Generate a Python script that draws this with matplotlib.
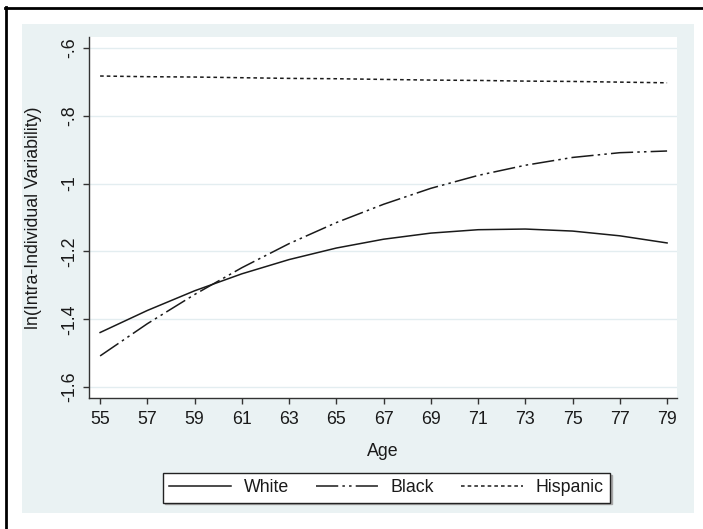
import matplotlib
matplotlib.use("Agg")
import matplotlib.pyplot as plt
from matplotlib.lines import Line2D
from matplotlib.patches import Rectangle

plt.rcParams['font.family'] = ['Liberation Sans', 'DejaVu Sans']
plt.rcParams['lines.scale_dashes'] = False

# values
age = [55, 57, 59, 61, 63, 65, 67, 69, 71, 73, 75, 77, 79]
white = [-1.439, -1.374, -1.316, -1.266, -1.224, -1.190, -1.164,
         -1.146, -1.136, -1.134, -1.140, -1.154, -1.175]
black = [-1.508, -1.413, -1.327, -1.248, -1.177, -1.115, -1.061,
         -1.014, -0.976, -0.946, -0.923, -0.909, -0.904]
hispanic = [-0.683, -0.685, -0.686, -0.688, -0.690, -0.691, -0.693,
            -0.695, -0.696, -0.698, -0.699, -0.701, -0.703]

yticks = [-0.6, -0.8, -1.0, -1.2, -1.4, -1.6]
ytick_labels = ["-.6", "-.8", "-1", "-1.2", "-1.4", "-1.6"]
xticks = list(range(55, 80, 2))

W, H = 703, 529
fig = plt.figure(figsize=(W / 100, H / 100), dpi=100)
fig.patch.set_facecolor("white")

bg = "#eaf2f3"
fig.add_artist(Rectangle((22 / W, 1 - 513 / H), 672 / W, 489 / H,
                         transform=fig.transFigure, facecolor=bg,
                         edgecolor="none", zorder=0))
# partial black frame (top and left)
fig.add_artist(Line2D([5 / W, 1], [1 - 8 / H, 1 - 8 / H], color="black",
                      lw=2.0, transform=fig.transFigure))
fig.add_artist(Line2D([6 / W, 6 / W], [0, 1 - 7 / H], color="black",
                      lw=2.0, transform=fig.transFigure))

ax = fig.add_axes([89 / W, 1 - 398 / H, 588 / W, 361 / H])
ax.set_facecolor("white")

ax.plot(age, white, color="#1a1a1a", lw=1.1, label="White")
ax.plot(age, black, color="#1a1a1a", lw=1.1, label="Black",
        dashes=(16, 3, 1.8, 3, 1.8, 3))
ax.plot(age, hispanic, color="#1a1a1a", lw=1.1, label="Hispanic",
        dashes=(2.6, 2.2))

ax.set_xlim(54.53, 79.42)
ax.set_ylim(-1.632, -0.568)
ax.set_xticks(xticks)
ax.set_yticks(yticks)
ax.set_yticklabels(ytick_labels, rotation=90, va="center")
ax.grid(axis="y", color="#e3edf0", lw=1.0)
ax.set_axisbelow(True)

for s in ["top", "right"]:
    ax.spines[s].set_visible(False)
for s in ["left", "bottom"]:
    ax.spines[s].set_color("#333333")
    ax.spines[s].set_linewidth(1.0)

ax.tick_params(axis="both", length=4.5, width=1.0, color="#333333",
               labelsize=12.8, labelcolor="#1a1a1a")
ax.tick_params(axis="x", pad=5)
ax.tick_params(axis="y", pad=3)

ax.set_xlabel("Age", fontsize=12.8, color="#1a1a1a")
ax.xaxis.set_label_coords(0.5, -(452 - 398) / 361)
ax.xaxis.label.set_va("center")
ax.set_ylabel("ln(Intra-Individual Variability)", fontsize=12.8,
              color="#1a1a1a")
ax.yaxis.set_label_coords((34 - 89) / 588, 0.5)
ax.yaxis.label.set_va("center")

handles, labels = ax.get_legend_handles_labels()
leg = fig.legend(handles, labels, loc="center", ncol=3, mode="expand",
                 bbox_to_anchor=(163 / W, 1 - 503 / H, 447 / W, 30 / H),
                 fontsize=12.8, handlelength=3.5, handletextpad=0.7,
                 borderaxespad=0, borderpad=0.35, columnspacing=1.0,
                 fancybox=False, edgecolor="#222222", facecolor="white",
                 framealpha=1, shadow={"color": "0.65", "alpha": 1,
                                       "ox": 1.2, "oy": -1.2})
leg.get_frame().set_linewidth(1.0)
for t in leg.get_texts():
    t.set_color("#1a1a1a")

fig.savefig("out.png", dpi=100, facecolor="white")
